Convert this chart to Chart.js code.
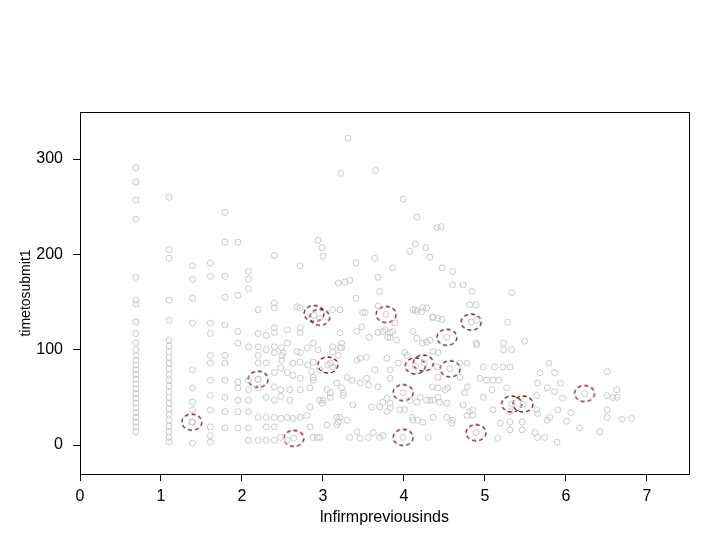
<!DOCTYPE html>
<html>
<head>
<meta charset="utf-8">
<script src="https://cdn.jsdelivr.net/npm/chart.js@4/dist/chart.umd.min.js"></script>
<style>
  body { margin: 0; background: #fff; }
  #box { width: 720px; height: 540px; }
</style>
</head>
<body>
<div id="box"><canvas id="scatterChart" width="720" height="540"></canvas></div>
<script>
// ticks
const xTicks = [0, 1, 2, 3, 4, 5, 6, 7];
const yTicks = [0, 100, 200, 300];

// the low x values sit in columns (ln of small counts)
const colX = [0.69, 1.10, 1.39, 1.61, 1.79, 1.95, 2.08, 2.20, 2.30, 2.40, 2.48];
const colY = [
  [291, 276, 257, 237, 176, 152, 148, 129, 117, 107, 100, 94, 89, 84, 79, 74, 69, 64, 59, 54, 49, 44, 39, 34, 29, 24, 19, 14],
  [260, 205, 196, 152, 131, 110, 104, 98, 92, 86, 80, 74, 68, 62, 56, 50, 44, 38, 32, 26, 20, 14, 8, 3],
  [188, 174, 154, 128, 79, 60, 45, 37, 24, 2],
  [191, 177, 128, 117, 94, 86, 68, 52, 37, 19, 10, 3],
  [244, 213, 177, 155, 126, 94, 86, 68, 50, 35, 18],
  [213, 157, 119, 107, 66, 60, 47, 35, 18],
  [182, 174, 164, 103, 68, 58, 47, 35, 18, 5],
  [142, 117, 103, 94, 86, 69, 60, 29, 5],
  [115, 100, 86, 50, 29, 19, 5],
  [199, 149, 144, 123, 118, 103, 97, 76, 61, 47, 29, 19, 5],
  [81, 58, 51, 28, 8]
];

// the rest of the grey points [x, y]
const scatterPts = [
  [2.51,97],[2.56,107],[2.72,118],[2.88,107],[2.68,98],[2.72,97],[2.81,102],[2.94,100],[3.12,103],[3.21,102],
  [2.63,86],[2.72,87],[2.81,84],[2.88,87],[2.56,76],[2.63,73],[2.72,70],[2.88,68],[2.59,58],[2.72,58],
  [2.84,60],[2.59,47],[2.84,40],[2.96,47],[3.09,50],[2.56,29],[2.63,28],[2.72,29],[2.80,31],[2.56,5],
  [2.64,7],[2.88,8],[2.96,8],[3.21,29],[3.30,26],[3.09,86],[3.12,82],[3.30,71],[3.05,58],[3.17,65],
  [3.25,55],[2.68,145],[2.72,144],[3.21,142],[3.12,142],[2.56,121],[2.72,123],[2.89,136],[2.96,133],[3.06,84],
  [3.52,139],[3.68,146],[3.89,128],[4.14,142],[4.22,140],[4.28,144],[3.48,124],[3.42,119],[3.68,118],[3.80,113],
  [3.86,119],[3.91,110],[4.11,119],[4.28,108],[4.36,98],[4.42,97],[4.01,97],[3.42,89],[3.46,91],[3.54,92],
  [3.79,91],[3.83,79],[3.64,79],[3.36,68],[3.46,65],[3.54,70],[3.56,63],[3.68,61],[3.83,70],[3.37,42],
  [3.60,40],[3.70,40],[3.79,49],[3.83,44],[4.20,50],[4.28,47],[4.42,50],[4.44,45],[4.35,61],[4.42,60],
  [4.54,60],[4.53,44],[3.42,14],[3.33,8],[3.46,7],[3.56,8],[3.62,13],[3.70,8],[3.74,10],[4.10,29],
  [4.17,26],[4.36,29],[4.60,26],[4.30,8],
  [4.36,134],[4.47,132],[3.77,121],[4.04,94],[3.93,86],[4.41,82],[4.42,71],[4.51,58],[4.32,47],[4.36,47],
  [4.16,45],[4.07,47],[3.79,35],[3.83,39],[3.95,37],[4.01,37],[4.11,26],[4.23,24],[4.53,29],[4.59,23],[3.74,45],
  [3.21,118],[3.23,107],[3.12,98],[3.23,102],[3.19,94],[3.17,29],[3.19,24],[3.05,21],[3.17,21],[3.23,60],
  [3.25,52],[3.09,55],[3.00,47],[2.99,44],[2.84,19],[2.93,8],[2.86,77],[2.88,71],[2.96,79],[2.49,102],
  [2.49,94],[2.49,89],
  [4.89,147],[5.28,129],[5.49,109],[4.89,107],[5.23,107],[5.23,100],[5.33,100],[5.79,86],[6.51,77],[4.69,86],
  [4.78,86],[4.98,82],[5.12,82],[5.22,82],[5.31,82],[5.68,76],[5.86,76],[4.69,71],[4.94,70],[5.02,68],
  [5.10,68],[5.17,68],[4.78,61],[4.75,55],[5.09,58],[5.27,60],[5.65,65],[5.77,60],[5.86,56],[5.93,65],
  [6.63,58],[6.63,50],[6.51,52],[6.58,50],[4.98,50],[5.64,52],[5.96,49],[4.85,37],[4.85,31],[5.10,37],
  [5.31,35],[5.64,37],[5.65,33],[5.90,37],[6.06,34],[6.51,37],[6.51,29],[6.69,27],[6.81,28],[5.80,29],
  [5.77,26],[5.19,23],[5.31,24],[5.46,24],[6.01,25],[5.31,16],[5.46,16],[5.16,7],[5.62,13],[5.65,8],
  [5.74,8],[5.89,3],[6.17,18],[6.42,14],[4.73,42],[4.81,35],[4.78,31],
  [4.83,129],[4.89,13],[5.33,43],[5.47,43],[6.23,54],[4.53,113],[4.57,80],[4.14,83],[4.25,86],[3.99,55],
  [3.99,8],[3.78,137],[1.38,24],[2.20,69],
  [3.31,322],[3.22,285],[3.65,288],[3.99,258],[4.16,239],[4.41,228],[4.46,229],[2.94,215],[2.99,207],[3.00,198],
  [2.72,188],[3.41,191],[3.64,196],[3.86,186],[4.14,211],[4.07,203],[4.27,207],[4.32,197],[4.47,186],[4.60,182],
  [4.60,168],[4.73,168],[4.84,161],[3.68,176],[3.70,161],[3.19,170],[3.27,171],[3.33,173],[3.41,154],[5.33,160],
  [3.49,139],[3.57,113],[3.83,113],[3.74,119],[3.83,118],[4.11,142],[4.16,140],[4.23,144],[4.35,134],[4.42,133],
  [4.81,147],[4.90,131],[4.90,105],[4.16,112],[4.23,107],[4.32,110]
];

// highlighted points (red dashed rings)
const redPts = [
  [1.38,24],[2.20,69],[2.64,7],[2.89,138],[2.96,134],[3.06,84],[3.78,137],[3.99,55],[3.99,8],
  [4.14,83],[4.24,86],[4.53,113],[4.57,80],[4.83,129],[4.89,13],[5.33,43],[5.47,43],[6.23,54]
];

var greyData = [];
for (var i = 0; i < colX.length; i++) {
  for (var j = 0; j < colY[i].length; j++) {
    greyData.push({ x: colX[i], y: colY[i][j] });
  }
}
scatterPts.forEach(function (p) { greyData.push({ x: p[0], y: p[1] }); });
var redData = redPts.map(function (p) { return { x: p[0], y: p[1] }; });

// dashed ring used as point style
function makeRing() {
  var c = document.createElement('canvas');
  c.width = 24;
  c.height = 20;
  var g = c.getContext('2d');
  g.strokeStyle = '#6e1212';
  g.lineWidth = 1.3;
  g.setLineDash([4, 3]);
  g.beginPath();
  g.ellipse(12, 10, 10, 8, 0, 0, Math.PI * 2);
  g.stroke();
  return c;
}

// box round the plot area, like R
const frame = {
  id: 'frame',
  afterDraw: function (chart) {
    var a = chart.chartArea;
    var ctx = chart.ctx;
    ctx.save();
    ctx.strokeStyle = '#000';
    ctx.lineWidth = 1;
    ctx.strokeRect(a.left + 0.5, a.top + 0.5, a.right - a.left, a.bottom - a.top);
    ctx.restore();
  }
};

var ctx = document.getElementById('scatterChart').getContext('2d');
var myChart = new Chart(ctx, {
  type: 'scatter',
  data: {
    datasets: [{
      label: 'all',
      data: greyData,
      pointStyle: 'circle',
      pointRadius: 3,
      borderColor: '#c9c9c9',
      backgroundColor: 'rgba(0,0,0,0)',
      borderWidth: 1
    }, {
      label: 'selected',
      data: redData,
      pointStyle: makeRing(),
      pointRadius: 10
    }]
  },
  options: {
    responsive: false,
    animation: false,
    layout: { padding: { top: 112, right: 31, bottom: 0, left: 0 } },
    plugins: {
      legend: { display: false },
      tooltip: { enabled: false }
    },
    scales: {
      x: {
        type: 'linear',
        min: 0,
        max: 7.52,
        afterFit: function (s) { s.height = 66; },
        afterBuildTicks: function (s) { s.ticks = xTicks.map(function (v) { return { value: v }; }); },
        ticks: { color: '#000', font: { family: 'Liberation Sans', size: 16 }, padding: 6, maxRotation: 0, autoSkip: false },
        grid: { display: true, drawOnChartArea: false, tickLength: 7, color: '#000' },
        border: { display: true, color: '#000' },
        title: {
          display: true,
          text: 'lnfirmpreviousinds',
          color: '#000',
          font: { family: 'Liberation Sans', size: 16 },
          padding: { top: 0, bottom: 13 }
        }
      },
      y: {
        type: 'linear',
        min: -30.4,
        max: 349.4,
        afterFit: function (s) { s.width = 80; },
        afterBuildTicks: function (s) { s.ticks = yTicks.map(function (v) { return { value: v }; }); },
        ticks: { color: '#000', font: { family: 'Liberation Sans', size: 16 }, padding: 10 },
        grid: { display: true, drawOnChartArea: false, tickLength: 7, color: '#000' },
        border: { display: true, color: '#000' },
        title: {
          display: true,
          text: 'timetosubmit1',
          color: '#000',
          font: { family: 'Liberation Sans', size: 14 },
          padding: { top: 18, bottom: 0 }
        }
      }
    }
  },
  plugins: [frame]
});
</script>
</body>
</html>
